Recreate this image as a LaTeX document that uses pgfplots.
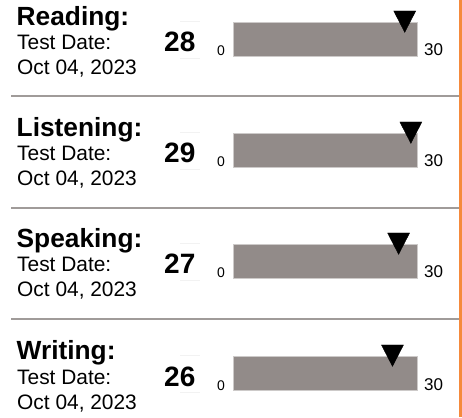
\documentclass[border=0pt]{standalone}
\usepackage{pgfplots}
\pgfplotsset{compat=1.18}
\usepackage{fontspec}
\setmainfont{Liberation Sans}
\definecolor{barc}{RGB}{146,139,137}
\definecolor{barb}{RGB}{205,202,201}
\definecolor{sepc}{RGB}{160,155,153}
\definecolor{orangec}{RGB}{245,138,60}
\newcommand{\ttl}[1]{{\fontsize{26.3}{26}\selectfont\bfseries #1}}
\newcommand{\reg}[1]{{\fontsize{20.9}{21}\selectfont #1}}
\newcommand{\scr}[1]{{\fontsize{28}{28}\selectfont\bfseries #1}}
\newcommand{\zero}{{\fontsize{14}{14}\selectfont 0}}
\newcommand{\thirty}{{\fontsize{17}{17}\selectfont 30}}
\pgfplotsset{scorebar/.style={
  hide axis, clip=false, scale only axis,
  width=184pt, height=45.5pt,
  xmin=0, xmax=30, ymin=0, ymax=45.5,
  anchor=south west}}
\begin{document}
\begin{tikzpicture}
\useasboundingbox (0,0) rectangle (462pt,417pt);
% separators and right border
\foreach \yy in {321,209,98}{
  \draw[sepc, line width=2pt] (11pt,\yy pt) -- (459pt,\yy pt);
}
\draw[orangec, line width=2.6pt] (460.2pt,0pt) -- (460.2pt,417pt);
% section texts
\foreach \d/\name/\score in {0/Reading:/28, 111/Listening:/29, 222/Speaking:/27, 334/Writing:/26}{
  \node[anchor=base west, inner sep=0pt] at (16.5pt, {(391.5-\d)*1pt}) {\ttl{\name}};
  \node[anchor=base west, inner sep=0pt] at (17pt, {(367-\d)*1pt}) {\reg{Test Date:}};
  \node[anchor=base west, inner sep=0pt] at (17pt, {(342-\d)*1pt}) {\reg{Oct 04, 2023}};
  \node[anchor=base west, inner sep=0pt] at (164pt, {(365-\d)*1pt}) {\scr{\score}};
  \node[anchor=base west, inner sep=0pt] at (217pt, {(361-\d)*1pt}) {\zero};
  \node[anchor=base west, inner sep=0pt] at (424pt, {(361-\d)*1pt}) {\thirty};
  \draw[black!5, line width=0.7pt] (180pt, {(396-\d)*1pt}) -- (200pt, {(396-\d)*1pt});
  \draw[black!5, line width=0.7pt] (180pt, {(359-\d)*1pt}) -- (200pt, {(359-\d)*1pt});
}
% Reading
\begin{axis}[scorebar, at={(233pt,360.5pt)}]
\addplot[xbar, bar width=34.5, bar shift=0pt, fill=barc, draw=barb, line width=0.8pt] coordinates {(30,17.25)};
\addplot[only marks, mark=triangle*, mark size=12.7pt, mark options={yscale=-1.12, fill=black, draw=black}] coordinates {(28,38.4)};
\end{axis}
% Listening
\begin{axis}[scorebar, at={(233pt,249.5pt)}]
\addplot[xbar, bar width=34.5, bar shift=0pt, fill=barc, draw=barb, line width=0.8pt] coordinates {(30,17.25)};
\addplot[only marks, mark=triangle*, mark size=12.7pt, mark options={yscale=-1.12, fill=black, draw=black}] coordinates {(29,38.4)};
\end{axis}
% Speaking
\begin{axis}[scorebar, at={(233pt,138.5pt)}]
\addplot[xbar, bar width=34.5, bar shift=0pt, fill=barc, draw=barb, line width=0.8pt] coordinates {(30,17.25)};
\addplot[only marks, mark=triangle*, mark size=12.7pt, mark options={yscale=-1.12, fill=black, draw=black}] coordinates {(27,38.4)};
\end{axis}
% Writing
\begin{axis}[scorebar, at={(233pt,26.5pt)}]
\addplot[xbar, bar width=34.5, bar shift=0pt, fill=barc, draw=barb, line width=0.8pt] coordinates {(30,17.25)};
\addplot[only marks, mark=triangle*, mark size=12.7pt, mark options={yscale=-1.12, fill=black, draw=black}] coordinates {(26,38.4)};
\end{axis}
\end{tikzpicture}
\end{document}
